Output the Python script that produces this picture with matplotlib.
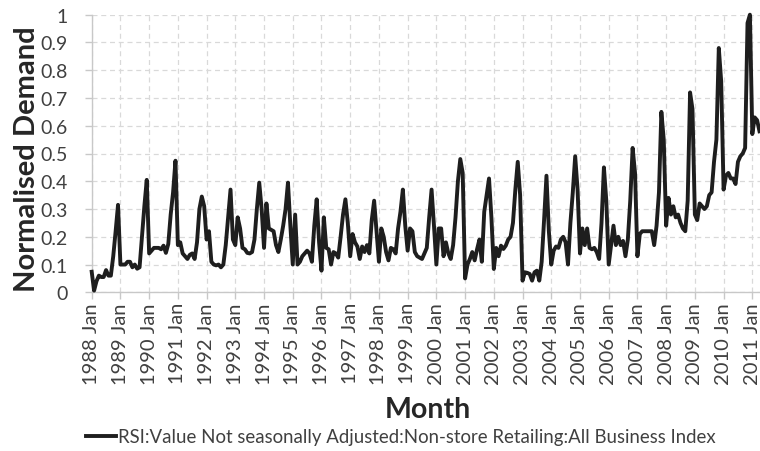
import matplotlib
matplotlib.use("Agg")
import matplotlib.pyplot as plt
import numpy as np

plt.rcParams['font.family'] = ['Lato', 'DejaVu Sans']

# monthly normalised demand, Jan..Dec per year (2011 runs to April)
v1988 = [0.074, 0.006, 0.04, 0.06, 0.055, 0.055, 0.08, 0.06, 0.06, 0.13, 0.22, 0.315]
v1989 = [0.10, 0.10, 0.10, 0.11, 0.11, 0.09, 0.10, 0.085, 0.09, 0.20, 0.31, 0.405]
v1990 = [0.14, 0.15, 0.16, 0.16, 0.16, 0.155, 0.168, 0.142, 0.174, 0.28, 0.36, 0.474]
v1991 = [0.17, 0.18, 0.14, 0.13, 0.12, 0.135, 0.14, 0.12, 0.18, 0.30, 0.345, 0.31]
v1992 = [0.19, 0.22, 0.11, 0.10, 0.097, 0.10, 0.09, 0.10, 0.17, 0.27, 0.37, 0.19]
v1993 = [0.17, 0.27, 0.23, 0.16, 0.155, 0.142, 0.14, 0.145, 0.19, 0.30, 0.395, 0.30]
v1994 = [0.16, 0.32, 0.23, 0.225, 0.22, 0.17, 0.145, 0.19, 0.24, 0.30, 0.395, 0.24]
v1995 = [0.10, 0.28, 0.10, 0.11, 0.13, 0.14, 0.15, 0.14, 0.11, 0.24, 0.335, 0.18]
v1996 = [0.078, 0.27, 0.16, 0.155, 0.10, 0.145, 0.14, 0.125, 0.20, 0.28, 0.335, 0.25]
v1997 = [0.13, 0.21, 0.18, 0.165, 0.12, 0.165, 0.145, 0.17, 0.14, 0.26, 0.33, 0.22]
v1998 = [0.11, 0.23, 0.20, 0.145, 0.115, 0.16, 0.155, 0.14, 0.23, 0.29, 0.37, 0.24]
v1999 = [0.15, 0.23, 0.22, 0.145, 0.13, 0.125, 0.12, 0.14, 0.16, 0.27, 0.37, 0.24]
v2000 = [0.10, 0.23, 0.23, 0.13, 0.18, 0.14, 0.12, 0.17, 0.27, 0.40, 0.48, 0.43]
v2001 = [0.05, 0.10, 0.12, 0.145, 0.115, 0.155, 0.19, 0.11, 0.29, 0.35, 0.41, 0.27]
v2002 = [0.084, 0.16, 0.13, 0.168, 0.156, 0.168, 0.19, 0.20, 0.25, 0.37, 0.47, 0.35]
v2003 = [0.042, 0.072, 0.07, 0.066, 0.042, 0.072, 0.078, 0.042, 0.11, 0.26, 0.42, 0.22]
v2004 = [0.10, 0.15, 0.165, 0.16, 0.19, 0.20, 0.18, 0.10, 0.25, 0.36, 0.49, 0.37]
v2005 = [0.14, 0.23, 0.17, 0.23, 0.16, 0.155, 0.16, 0.145, 0.12, 0.25, 0.45, 0.33]
v2006 = [0.10, 0.17, 0.24, 0.17, 0.20, 0.17, 0.185, 0.13, 0.19, 0.33, 0.52, 0.43]
v2007 = [0.13, 0.21, 0.22, 0.22, 0.22, 0.22, 0.22, 0.17, 0.24, 0.36, 0.65, 0.55]
v2008 = [0.24, 0.34, 0.28, 0.31, 0.27, 0.28, 0.25, 0.23, 0.22, 0.33, 0.72, 0.66]
v2009 = [0.28, 0.26, 0.32, 0.31, 0.30, 0.31, 0.35, 0.36, 0.47, 0.55, 0.88, 0.76]
v2010 = [0.37, 0.42, 0.43, 0.41, 0.41, 0.39, 0.47, 0.49, 0.50, 0.52, 0.97, 1.0]
v2011 = [0.57, 0.63, 0.62, 0.58]

years = list(range(1988, 2012))
tick_labels = [f"{y} Jan" for y in years]
series_name = "RSI:Value Not seasonally Adjusted:Non-store Retailing:All Business Index"

demand = np.array(v1988 + v1989 + v1990 + v1991 + v1992 + v1993 + v1994 + v1995
                  + v1996 + v1997 + v1998 + v1999 + v2000 + v2001 + v2002 + v2003
                  + v2004 + v2005 + v2006 + v2007 + v2008 + v2009 + v2010 + v2011)
months = np.arange(len(demand))

fig = plt.figure(figsize=(7.6, 4.52), dpi=100)
ax = fig.add_axes([91.7 / 760, 1 - 293.3 / 452, 1 - 91.7 / 760, 277.6 / 452])

ax.plot(months, demand, color='#1e1e1e', lw=2.8, solid_joinstyle='round',
        label=series_name, clip_on=False, zorder=3)

ax.set_xlim(0, (760 - 91.7) / 2.3935)
ax.set_ylim(0, 1)
ax.set_xticks(np.arange(0, 12 * len(years), 12))
ax.set_xticklabels(tick_labels, rotation=90, fontsize=14.5, color='#404040')
ax.set_yticks(np.arange(0, 1.01, 0.1))
ax.set_yticklabels(['0'] + [f"{t:.1f}" for t in np.arange(0.1, 0.95, 0.1)] + ['1'],
                   fontsize=14, color='#404040')

ax.grid(True, color='#d9d9d9', linestyle=(0, (4, 3)), lw=0.9)
ax.set_axisbelow(True)
for s in ['top', 'right']:
    ax.spines[s].set_visible(False)
for s in ['left', 'bottom']:
    ax.spines[s].set_color('#c8c8c8')
    ax.spines[s].set_linewidth(1.0)
ax.tick_params(axis='both', direction='out', length=5, color='#c8c8c8', width=1.0)
ax.tick_params(axis='x', pad=2)
ax.tick_params(axis='y', pad=12)

fig.text(27 / 760, 1 - 159 / 452, "Normalised Demand", rotation=90, ha='center',
         va='center', fontsize=21, fontweight='bold', color='#262626')
fig.text(428 / 760, 1 - 410 / 452, "Month", ha='center', va='center',
         fontsize=20.5, fontweight='bold', color='#262626')

fig.legend(loc='center', bbox_to_anchor=(401 / 760, 1 - 438 / 452), frameon=False,
           fontsize=13.4, handlelength=1.6, handletextpad=0.15, labelcolor='#404040')

fig.savefig('out.png', dpi=100)
